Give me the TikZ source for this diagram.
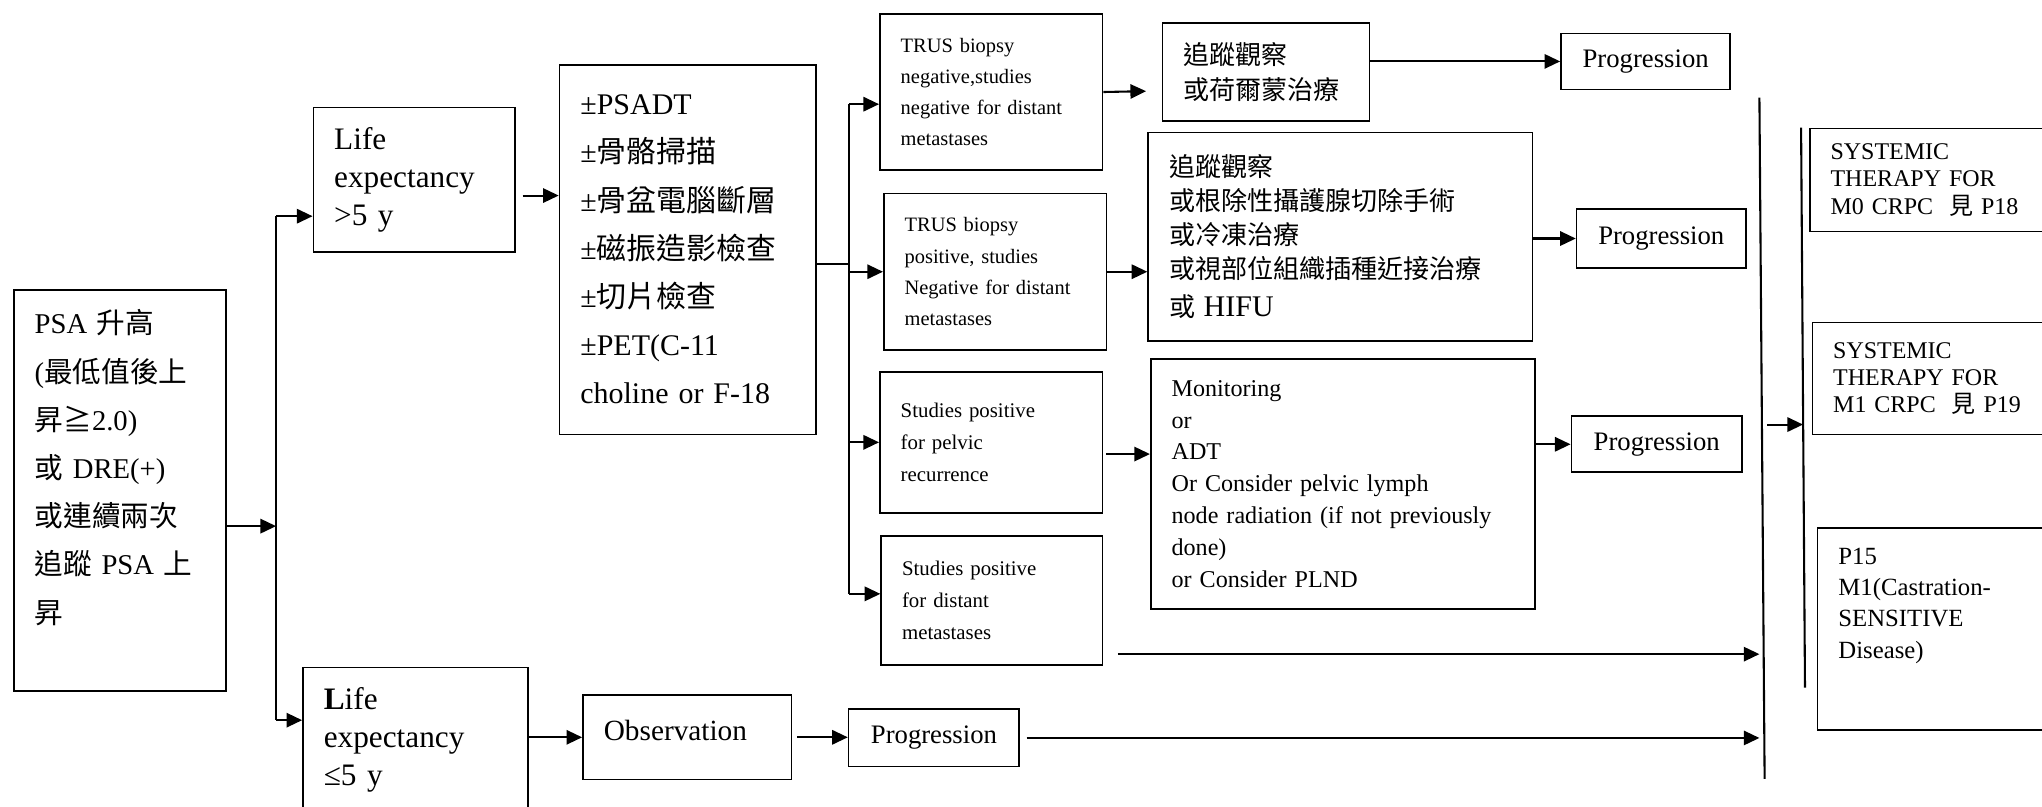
\documentclass[tikz,border=0pt]{standalone}
\usepackage{fontspec}
\setmainfont{Liberation Serif}
\newfontfamily\cjk{Noto Sans CJK TC}
\usetikzlibrary{arrows.meta}
\usetikzlibrary{calc}

\begin{document}
\begin{tikzpicture}[x=1pt, y=-1pt,
    box/.style={draw, line width=1.3pt, anchor=north west, align=left, inner xsep=16pt, inner ysep=0pt},
    pbox/.style={draw, line width=1.3pt, anchor=north west, align=center, inner sep=0pt, font=\fontsize{20.5}{24}\selectfont},
    arr/.style={line width=1.6pt, -{Triangle[length=12pt, width=11pt]}},
    bar/.style={line width=1.6pt}]
        \useasboundingbox [fill=white] (0, 0) rectangle (1568, 619);

        \node [box, text width=131pt, minimum height=308pt, font=\fontsize{22}{37}\selectfont] (psa) at (10, 222)
          {PSA {\cjk 升高}\\ ({\cjk 最低值後上}\\ {\cjk 昇≧}2.0)\\ {\cjk 或} DRE(+)\\ {\cjk 或連續兩次}\\ {\cjk 追蹤} PSA {\cjk 上}\\ {\cjk 昇}\\ \mbox{}};
        \node [box, text width=123pt, minimum height=111pt, font=\fontsize{24}{29}\selectfont] (gt) at (240, 82)
          {Life\\ expectancy\\ >5 y};
        \node [box, text width=141pt, minimum height=135pt, font=\fontsize{24}{29}\selectfont] (le) at (232, 512)
          {\textbf{L}ife\\ expectancy\\ ≤5 y\\ \mbox{}};
        \node [box, text width=165pt, minimum height=284pt, font=\fontsize{23}{37}\selectfont] (tests) at (429, 49)
          {±PSADT\\ ±{\cjk 骨骼掃描}\\ ±{\cjk 骨盆電腦斷層}\\ ±{\cjk 磁振造影檢查}\\ ±{\cjk 切片檢查}\\ ±PET(C-11\\ choline or F-18};

        \node [box, text width=139pt, minimum height=120pt, font=\fontsize{15.7}{24}\selectfont] (neg) at (675, 10)
          {TRUS biopsy\\ negative,studies\\ negative for distant\\ metastases};
        \node [box, text width=139pt, minimum height=120pt, font=\fontsize{15.7}{24}\selectfont] (pos) at (678, 148)
          {TRUS biopsy\\ positive, studies\\ Negative for distant\\ metastases};
        \node [box, text width=139pt, minimum height=108pt, font=\fontsize{16}{24.5}\selectfont] (pelvic) at (675, 285)
          {Studies positive\\ for pelvic\\ recurrence};
        \node [box, text width=138pt, minimum height=99pt, font=\fontsize{16}{24.5}\selectfont] (distant) at (676, 411)
          {Studies positive\\ for distant\\ metastases};

        \node [box, text width=127pt, minimum height=75pt, font=\cjk\fontsize{20}{27}\selectfont] (watch) at (892, 17)
          {追蹤觀察\\ 或荷爾蒙治療};
        \node [box, text width=263pt, minimum height=160pt, font=\cjk\fontsize{20}{26}\selectfont] (local) at (881, 101)
          {追蹤觀察\\ 或根除性攝護腺切除手術\\ 或冷凍治療\\ 或視部位組織插種近接治療\\[3pt] 或 {\rmfamily\fontsize{23}{26}\selectfont HIFU}};
        \node [box, text width=263pt, minimum height=192pt, font=\fontsize{18.5}{24.5}\selectfont] (monitor) at (883, 275)
          {Monitoring\\ or\\ ADT\\ Or Consider pelvic lymph\\ node radiation (if not previously\\ done)\\ or Consider PLND};

        \node [pbox, minimum width=130pt, minimum height=43pt] (p1) at (1198, 25) {Progression};
        \node [pbox, minimum width=130pt, minimum height=45pt] (p2) at (1210, 160) {Progression};
        \node [pbox, minimum width=131pt, minimum height=43pt] (p3) at (1206, 319) {Progression};

        \node [box, text width=128pt, minimum height=65pt, font=\fontsize{22.5}{26}\selectfont] (obs) at (447, 533) {Observation\\[-16pt] \mbox{}};
        \node [pbox, minimum width=131pt, minimum height=44pt] (p4) at (651, 544) {Progression};

        \node [box, text width=168pt, minimum height=79pt, font=\fontsize{18.4}{21}\selectfont] (m0) at (1389, 98)
          {SYSTEMIC\\ THERAPY FOR\\ M0 CRPC\ \ {\cjk 見} P18};
        \node [box, text width=168pt, minimum height=86pt, font=\fontsize{18.4}{21}\selectfont] (m1) at (1391, 247)
          {SYSTEMIC\\ THERAPY FOR\\ M1 CRPC\ \ {\cjk 見} P19};
        \node [box, text width=168pt, minimum height=155pt, font=\fontsize{19}{24}\selectfont] (p15) at (1395, 405)
          {P15\\ M1(Castration-\\ SENSITIVE\\ Disease)\\[16pt] \mbox{}};

        \coordinate (s1) at (212, 404);
        \coordinate (s1t) at (212, 166);
        \coordinate (s1b) at (212, 553);
        \draw [bar] (s1t) -- (s1b);
        \draw [arr] (psa.east |- s1) -- (s1);
        \draw [arr] (s1t) -- (s1t -| gt.west);
        \draw [arr] (s1b) -- (s1b -| le.west);

        \coordinate (g1) at ($(gt.east)+(5,12)$);
        \draw [arr] (g1) -- (g1 -| tests.west);

        \coordinate (s2) at (652, 203);
        \coordinate (s2t) at (652, 80);
        \coordinate (s2b) at (652, 456);
        \draw [bar] (tests.east |- s2) -- (s2);
        \draw [bar] (s2t) -- (s2b);
        \draw [arr] (s2t) -- (s2t -| neg.west);
        \draw [arr] (s2t |- pos.west) -- (pos.west);
        \draw [arr] (s2t |- pelvic.west) -- (pelvic.west);
        \draw [arr] (s2b) -- (s2b -| distant.west);

        \coordinate (w1) at (880, 70);
        \draw [arr] (neg.east) -- (w1);
        \draw [arr] (watch.east |- p1) -- (p1.west);
        \draw [arr] (pos.east) -- (pos.east -| local.west);
        \draw [arr] (local.east |- p2) -- (p2.west);
        \coordinate (r1) at ($(pelvic.east)+(2,9)$);
        \draw [arr] (r1) -- (r1 -| monitor.west);
        \draw [arr] (monitor.east |- p3) -- (p3.west);

        \draw [arr] (le.east |- obs) -- (obs.west);
        \coordinate (o1) at ($(obs.east)+(4,0)$);
        \draw [arr] (o1) -- (o1 -| p4.west);

        \coordinate (bt) at (1351, 75);
        \coordinate (bb) at (1355, 598);
        \draw [bar] (bt) -- (bb);
        \coordinate (d1) at ($(distant.south east)+(11,-9)$);
        \draw [arr] (d1) -- (d1 -| bt);
        \coordinate (d2) at ($(p4.east)+(5,0)$);
        \draw [arr] (d2) -- (d2 -| bt);

        \coordinate (ct) at (1383, 98);
        \coordinate (cb) at (1386, 528);
        \draw [bar] (ct) -- (cb);
        \coordinate (c0) at (1357, 326);
        \coordinate (c1) at (1384.5, 326);
        \draw [arr] (c0) -- (c1);
      \end{tikzpicture}
\end{document}
